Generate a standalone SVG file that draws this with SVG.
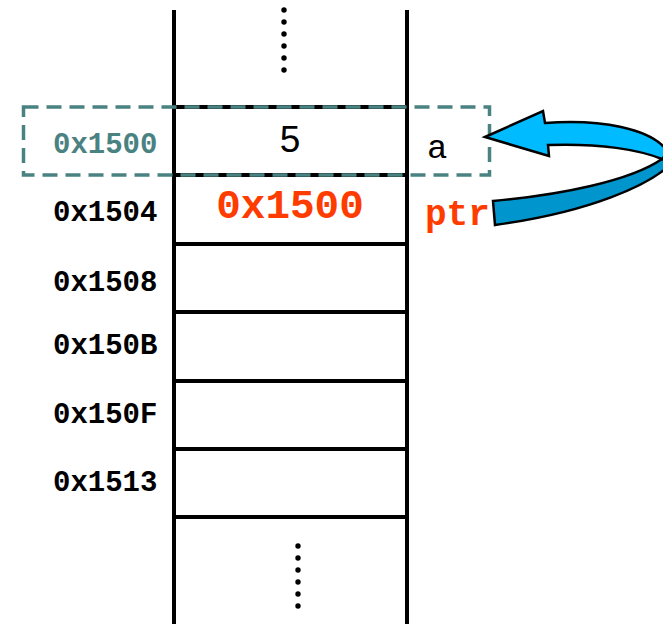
<svg xmlns="http://www.w3.org/2000/svg" width="663" height="624" viewBox="0 0 663 624">
  <style>
    .wall { stroke: #000; stroke-width: 4; fill: none; }
    .row { stroke: #000; stroke-width: 4; }
    .dot { fill: #000; }
    .addr { font-family: "Liberation Mono", "Courier New", monospace; font-weight: bold; font-size: 29px; fill: #000; }
    .addr.hl { fill: #4a8282; }
    .value { font-family: "Liberation Mono", "Courier New", monospace; font-weight: bold; font-size: 41px; fill: #ff3c00; }
    .name { font-family: "Liberation Mono", "Courier New", monospace; font-size: 34px; fill: #000; }
    .ptrname { font-family: "Liberation Mono", "Courier New", monospace; font-weight: bold; font-size: 36px; fill: #ff3c00; }
    .num { font-family: "Liberation Sans", Arial, sans-serif; font-size: 37px; fill: #000; }
    .highlight { fill: none; stroke: #4a8282; stroke-width: 3.5; stroke-dasharray: 15 8; }
    .ribbon { stroke: #000; stroke-width: 2.5; stroke-linejoin: miter; }
  </style>

  <rect width="663" height="624" fill="#fff"/>

  <!-- memory column walls -->
  <g id="memory-column">
    <line class="wall" x1="174" y1="10" x2="174" y2="624"/>
    <line class="wall" x1="407" y1="10" x2="407" y2="624"/>
  </g>

  <!-- continuation dots above and below -->
  <g id="ellipsis-top">
    <circle class="dot" cx="284" cy="10" r="2.7"/>
    <circle class="dot" cx="284" cy="22" r="2.7"/>
    <circle class="dot" cx="284" cy="34" r="2.7"/>
    <circle class="dot" cx="284" cy="46" r="2.7"/>
    <circle class="dot" cx="284" cy="58" r="2.7"/>
    <circle class="dot" cx="284" cy="70" r="2.7"/>
  </g>
  <g id="ellipsis-bottom">
    <circle class="dot" cx="298" cy="546" r="2.7"/>
    <circle class="dot" cx="298" cy="558" r="2.7"/>
    <circle class="dot" cx="298" cy="570" r="2.7"/>
    <circle class="dot" cx="298" cy="582" r="2.7"/>
    <circle class="dot" cx="298" cy="594" r="2.7"/>
    <circle class="dot" cx="298" cy="606" r="2.7"/>
  </g>

  <!-- cell boundaries -->
  <g id="cell-rows">
    <line class="row" x1="174" y1="107" x2="407" y2="107"/>
    <line class="row" x1="174" y1="175" x2="407" y2="175"/>
    <line class="row" x1="174" y1="244" x2="407" y2="244"/>
    <line class="row" x1="174" y1="312" x2="407" y2="312"/>
    <line class="row" x1="174" y1="381" x2="407" y2="381"/>
    <line class="row" x1="174" y1="449" x2="407" y2="449"/>
    <line class="row" x1="174" y1="517" x2="407" y2="517"/>
  </g>

  <!-- cell a -->
  <g id="cell-a">
    <text class="addr hl" x="53" y="153">0x1500</text>
    <text class="num" x="290" y="152" text-anchor="middle">5</text>
    <text class="name" x="427" y="158">a</text>
  </g>

  <!-- cell ptr -->
  <g id="cell-ptr">
    <text class="addr" x="53" y="221">0x1504</text>
    <text class="value" x="290" y="218" text-anchor="middle">0x1500</text>
    <text class="ptrname" x="425" y="225">ptr</text>
  </g>

  <g id="cell-1508"><text class="addr" x="53" y="291">0x1508</text></g>
  <g id="cell-150B"><text class="addr" x="53" y="354">0x150B</text></g>
  <g id="cell-150F"><text class="addr" x="53" y="423">0x150F</text></g>
  <g id="cell-1513"><text class="addr" x="53" y="491">0x1513</text></g>

  <!-- dashed outline around variable a -->
  <g id="highlight-a">
    <rect class="highlight" x="23.5" y="107" width="466" height="68"/>
  </g>

  <!-- curved arrow from ptr back to a -->
  <g id="connectors">
    <path class="ribbon" fill="#0095cc"
          d="M493,201 C560,195 630,181 662,159 L672,163 C650,185 590,212 495,225 Z"/>
    <path class="ribbon" fill="#00bbff"
          d="M485,137 L543,111 L545,123 C600,119 652,128 668,152 L662,159 C640,150 600,143 548,145 L549,156 Z"/>
  </g>
</svg>
